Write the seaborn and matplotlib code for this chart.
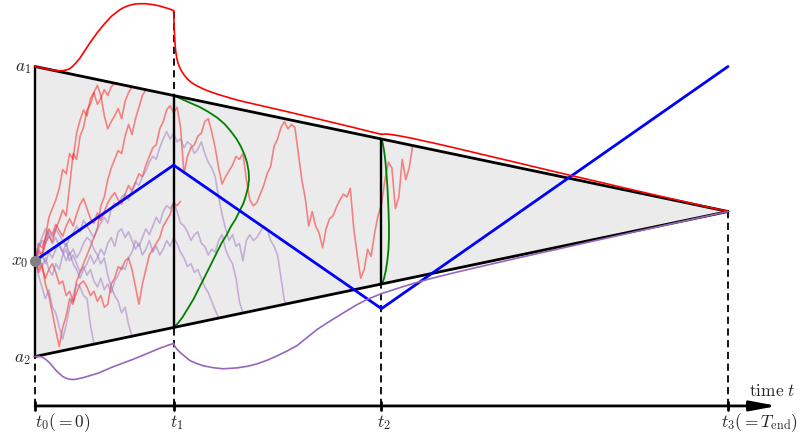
import numpy as np
import pandas as pd
import matplotlib
matplotlib.use("Agg")
import matplotlib.pyplot as plt
import seaborn as sns

# ---------------------------------------------------------------------------
# Stages, barriers and starting point
# ---------------------------------------------------------------------------
t_stage = [0.0, 0.2, 0.5, 1.0]
stage_labels = [r"$t_0(=0)$", r"$t_1$", r"$t_2$", r"$t_3(=T_{\mathrm{end}})$"]
a1, a2, x0 = 1.0, -1.0, -0.34
T_end = 1.0

# piecewise linear drift (blue)
drift_t = [0.0, 0.2, 0.5, 1.0]
drift_y = [-0.34, 0.32, -0.67, 1.0]

# ---------------------------------------------------------------------------
# Sample paths, step DT, stopped at the first barrier crossing
# ---------------------------------------------------------------------------
DT = 0.005
paths_upper = {
    "r1": [-0.34, -0.28, -0.31, -0.22, -0.17, -0.21, -0.12, -0.06, 0.01, -0.03,
           0.18, 0.40, 0.36, 0.52, 0.58, 0.70, 0.74, 0.82, 0.87, 0.80,
           0.66, 0.57, 0.62, 0.66, 0.71, 0.64, 0.76, 0.82, 0.86],
    "r2": [-0.34, -0.40, -0.36, -0.50, -0.58, -0.70, -0.82, -0.93, -0.80, -0.72,
           -0.60, -0.64, -0.48, -0.42, -0.36, -0.30, -0.24, -0.18, -0.12, 0.04,
           0.10, 0.22, 0.30, 0.36, 0.42, 0.40, 0.52, 0.60, 0.53, 0.64,
           0.72, 0.80, 0.84],
    "r3": [-0.34, -0.26, -0.30, -0.19, -0.12, -0.16, -0.09, -0.13, -0.17, -0.10,
           -0.05, -0.10, -0.02, 0.05, 0.09, 0.02, -0.05, -0.08, -0.01, -0.06,
           0.00, 0.06, 0.10, 0.13, 0.08, 0.05, 0.12, 0.18, 0.14, 0.20,
           0.26, 0.24, 0.32, 0.38, 0.44, 0.46, 0.57, 0.62, 0.70, 0.73,
           0.68, 0.72, 0.58, 0.26, 0.38, 0.44, 0.46, 0.52, 0.54, 0.62,
           0.64, 0.55, 0.44, 0.30, 0.19, 0.24, 0.28, 0.32, 0.38, 0.36,
           0.40, 0.22, 0.08, 0.04, 0.06, 0.12, 0.18, 0.26, 0.31, 0.45,
           0.50, 0.58, 0.62, 0.57, 0.60, 0.58, 0.40, 0.22, 0.09, -0.10,
           0.00, -0.10, -0.15, -0.25, -0.12, -0.05, -0.03, 0.03, 0.08, 0.12,
           0.10, 0.16, -0.12, -0.30, -0.46, -0.40, -0.26, -0.31, -0.15, -0.03,
           0.05, 0.22, 0.34, 0.30, 0.02, 0.10, 0.36, 0.22, 0.30, 0.455],
    "r4": [-0.34, -0.22, -0.25, -0.18, -0.04, 0.02, 0.08, 0.16, 0.29, 0.26,
           0.40, 0.36, 0.54, 0.63, 0.70, 0.66, 0.78, 0.82, 0.74, 0.78,
           0.84, 0.80, 0.86, 0.885],
    "r5": [-0.34, -0.42, -0.38, -0.46, -0.40, -0.36, -0.42, -0.50, -0.48, -0.58,
           -0.55, -0.62, -0.56, -0.50, -0.48, -0.52, -0.58, -0.55, -0.62, -0.58,
           -0.66, -0.64, -0.50, -0.46, -0.38, -0.40, -0.34, -0.32, -0.40, -0.52,
           -0.64, -0.50, -0.40, -0.30, -0.26, -0.22, -0.18, -0.10, -0.06, -0.02,
           0.06, 0.04, 0.07],
}
paths_lower = {
    "p1": [-0.34, -0.44, -0.52, -0.60, -0.54, -0.66, -0.70, -0.80, -0.88, -0.78,
           -0.66, -0.58, -0.50, -0.52, -0.58, -0.60, -0.78, -0.915],
    "p2": [-0.34, -0.26, -0.20, -0.22, -0.14, -0.18, -0.12, -0.16, -0.20, -0.24,
           -0.18, -0.15, -0.10, -0.14, -0.06, -0.10, -0.14, -0.18, -0.12, -0.08,
           -0.04, -0.08, 0.02, 0.06, 0.04, 0.10, 0.12, 0.08, 0.15, 0.20,
           0.18, 0.24, 0.28, 0.34, 0.38, 0.36, 0.44, 0.50, 0.55, 0.50,
           0.54, 0.48, 0.50, 0.44, 0.48, 0.46, 0.40, 0.43, 0.48, 0.40,
           0.34, 0.30, 0.24, 0.10, -0.02, -0.12, -0.20, -0.16, -0.24, -0.22,
           -0.34, -0.20, -0.16, -0.20, -0.18, -0.14, -0.10, -0.12, -0.20, -0.24,
           -0.30, -0.46, -0.62, -0.635],
    "p3": [-0.34, -0.30, -0.38, -0.32, -0.40, -0.44, -0.36, -0.40, -0.30, -0.26,
           -0.34, -0.30, -0.36, -0.42, -0.38, -0.44, -0.40, -0.48, -0.52, -0.46,
           -0.54, -0.50, -0.56, -0.48, -0.44, -0.38, -0.40, -0.32, -0.28, -0.20,
           -0.24, -0.18, -0.12, -0.16, -0.10, -0.04, -0.08, 0.00, 0.04, 0.02,
           0.06, 0.00, -0.08, -0.10, -0.14, -0.20, -0.16, -0.14, -0.22, -0.24,
           -0.30, -0.26, -0.28, -0.20, -0.16, -0.26, -0.32, -0.36, -0.46, -0.62,
           -0.70],
    "p4": [-0.34, -0.38, -0.30, -0.36, -0.28, -0.32, -0.26, -0.22, -0.28, -0.34,
           -0.28, -0.36, -0.40, -0.46, -0.40, -0.36, -0.30, -0.36, -0.32, -0.26,
           -0.30, -0.22, -0.18, -0.24, -0.14, -0.12, -0.18, -0.14, -0.20, -0.26,
           -0.22, -0.30, -0.26, -0.20, -0.28, -0.24, -0.30, -0.26, -0.20, -0.24,
           -0.18, -0.22, -0.28, -0.32, -0.38, -0.36, -0.42, -0.40, -0.46, -0.52,
           -0.56, -0.62, -0.68, -0.735],
    "p5": [-0.34, -0.24, -0.18, -0.12, -0.16, -0.22, -0.18, -0.24, -0.28, -0.22,
           -0.30, -0.26, -0.32, -0.28, -0.22, -0.18, -0.20, -0.26, -0.30, -0.36,
           -0.32, -0.44, -0.52, -0.58, -0.62, -0.70, -0.66, -0.78, -0.86],
}

# ---------------------------------------------------------------------------
# First-passage densities (scaled), one piece per stage
# ---------------------------------------------------------------------------
fpt_up_t = [
    [0.000, 0.005, 0.010, 0.015, 0.020, 0.025, 0.030, 0.035, 0.040, 0.045,
     0.050, 0.055, 0.060, 0.065, 0.070, 0.075, 0.080, 0.085, 0.090, 0.095,
     0.100, 0.105, 0.110, 0.115, 0.120, 0.125, 0.130, 0.135, 0.140, 0.145,
     0.150, 0.155, 0.160, 0.165, 0.170, 0.175, 0.180, 0.185, 0.190, 0.195, 0.200],
    [0.200, 0.2005, 0.201, 0.2015, 0.202, 0.203, 0.2045, 0.2065, 0.209, 0.212,
     0.216, 0.220, 0.225, 0.230, 0.236, 0.243, 0.250, 0.260, 0.270, 0.280,
     0.290, 0.300, 0.320, 0.340, 0.360, 0.380, 0.400, 0.420, 0.440, 0.460,
     0.480, 0.500],
    [0.500, 0.505, 0.510, 0.520, 0.530, 0.545, 0.560, 0.580, 0.600, 0.630,
     0.660, 0.700, 0.740, 0.780, 0.820, 0.860, 0.900, 0.940, 0.970, 1.000],
]
fpt_up = [
    [0.000, 0.000, 0.000, 0.000, 0.000, 0.001, 0.002, 0.006, 0.011, 0.021,
     0.034, 0.059, 0.090, 0.124, 0.166, 0.207, 0.248, 0.286, 0.324, 0.359,
     0.393, 0.424, 0.455, 0.479, 0.503, 0.524, 0.541, 0.555, 0.566, 0.576,
     0.583, 0.588, 0.593, 0.595, 0.597, 0.597, 0.597, 0.595, 0.593, 0.590, 0.586],
    [0.586, 0.517, 0.455, 0.407, 0.366, 0.310, 0.262, 0.228, 0.200, 0.176,
     0.152, 0.134, 0.117, 0.106, 0.097, 0.088, 0.081, 0.074, 0.069, 0.065,
     0.061, 0.059, 0.057, 0.055, 0.053, 0.050, 0.048, 0.045, 0.042, 0.039,
     0.035, 0.032],
    [0.032, 0.039, 0.043, 0.046, 0.048, 0.049, 0.048, 0.047, 0.045, 0.041,
     0.037, 0.032, 0.026, 0.021, 0.017, 0.012, 0.008, 0.005, 0.002, 0.000],
]
fpt_low_t = [
    [0.000, 0.005, 0.010, 0.015, 0.020, 0.025, 0.030, 0.035, 0.040, 0.045,
     0.050, 0.055, 0.060, 0.070, 0.080, 0.090, 0.100, 0.110, 0.120, 0.130,
     0.140, 0.150, 0.160, 0.170, 0.180, 0.190, 0.200],
    [0.200, 0.2015, 0.203, 0.206, 0.209, 0.2165, 0.2237, 0.2323, 0.2424, 0.2569,
     0.2713, 0.2915, 0.3059, 0.3203, 0.3348, 0.3492, 0.3636, 0.3781, 0.3925,
     0.4069, 0.4214, 0.4358, 0.4502, 0.4647, 0.4791, 0.500],
    [0.500, 0.510, 0.520, 0.530, 0.550, 0.570, 0.590, 0.620, 0.660, 0.700,
     0.750, 0.800, 0.850, 0.900, 0.950, 1.000],
]
fpt_low = [
    [0.000, 0.004, 0.014, 0.033, 0.059, 0.090, 0.124, 0.152, 0.178, 0.195,
     0.207, 0.214, 0.216, 0.215, 0.211, 0.207, 0.197, 0.186, 0.178, 0.170,
     0.162, 0.153, 0.143, 0.133, 0.123, 0.116, 0.110],
    [0.110, 0.128, 0.141, 0.162, 0.179, 0.217, 0.252, 0.279, 0.306, 0.334,
     0.356, 0.370, 0.374, 0.371, 0.361, 0.345, 0.326, 0.303, 0.262,
     0.221, 0.190, 0.162, 0.134, 0.107, 0.086, 0.066],
    [0.066, 0.061, 0.055, 0.050, 0.041, 0.034, 0.030, 0.025, 0.021, 0.017,
     0.014, 0.010, 0.007, 0.004, 0.002, 0.000],
]

# state densities at t1 and t2 (drawn sideways, widths in time units)
dens_t1_y = [0.800, 0.776, 0.748, 0.721, 0.686, 0.645, 0.603, 0.555, 0.500,
             0.445, 0.390, 0.334, 0.279, 0.224, 0.169, 0.114, 0.059, 0.003,
             -0.052, -0.107, -0.162, -0.217, -0.272, -0.328, -0.397, -0.466,
             -0.534, -0.603, -0.672, -0.728, -0.769, -0.800]
dens_t1_w = [0.0, 0.0115, 0.0245, 0.0375, 0.0505, 0.0635, 0.0736, 0.0823, 0.0909,
             0.0974, 0.1025, 0.1061, 0.1082, 0.1089, 0.1075, 0.1046, 0.1010, 0.0952,
             0.0895, 0.0823, 0.0765, 0.0693, 0.0635, 0.0577, 0.0505, 0.0433,
             0.0361, 0.0289, 0.0202, 0.0130, 0.0065, 0.0]
dens_t2_y = [0.500, 0.472, 0.417, 0.348, 0.259, 0.155, 0.017, -0.086, -0.176,
             -0.259, -0.341, -0.410, -0.459, -0.486, -0.500]
dens_t2_w = [0.0, 0.0017, 0.0038, 0.0056, 0.0072, 0.0087, 0.0100, 0.0107, 0.0108,
             0.0101, 0.0084, 0.0061, 0.0038, 0.0019, 0.0]


def upper(t):
    return a1 * (1 - np.asarray(t) / T_end)


def lower(t):
    return a2 * (1 - np.asarray(t) / T_end)


# ---------------------------------------------------------------------------
sns.set_style("white")
plt.rcParams["mathtext.fontset"] = "cm"
plt.rcParams["font.family"] = ["DejaVu Serif"]

fig = plt.figure(figsize=(8.07, 4.39), dpi=100)
ax = fig.add_axes([0, 0, 1, 1])
ax.set_xlim(-35 / 693, 772 / 693)
ax.set_ylim((212.5 - 439) / 145, 212.5 / 145)
ax.axis("off")

RED = "#ff0000"
PURPLE = "#9467bd"
GREEN = "#008000"
y_axis = -1.341

# shaded continuation region
ax.fill([0, T_end, 0], [a1, 0, a2], color="#ebebeb", lw=0, zorder=0)

# sample paths
rows = []
for kind, group in (("upper", paths_upper), ("lower", paths_lower)):
    for name, vals in group.items():
        for k, v in enumerate(vals):
            rows.append({"t": k * DT, "y": v, "path": name, "kind": kind})
df = pd.DataFrame(rows)
sns.lineplot(data=df, x="t", y="y", hue="kind", units="path", estimator=None,
             sort=False, palette={"upper": RED, "lower": PURPLE}, alpha=0.45,
             lw=1.2, legend=False, ax=ax, zorder=1)

# sideways state densities
ax.plot(t_stage[1] + np.array(dens_t1_w), dens_t1_y, color=GREEN, lw=1.3, zorder=2)
ax.plot(t_stage[2] + np.array(dens_t2_w), dens_t2_y, color=GREEN, lw=1.3, zorder=2)

# dashed guides
dash = dict(color="k", lw=1.3, ls=(0, (4, 2.5)), zorder=2)
ax.plot([0, 0], [y_axis, a2], **dash)
ax.plot([t_stage[1]] * 2, [y_axis, upper(t_stage[1]) + fpt_up[0][-1]], **dash)
ax.plot([t_stage[2]] * 2, [y_axis, lower(t_stage[2])], **dash)
ax.plot([t_stage[3]] * 2, [y_axis, 0], **dash)

# barriers and stage lines
tb = np.array([0, T_end])
ax.plot(tb, upper(tb), color="k", lw=2.0, zorder=3)
ax.plot(tb, lower(tb), color="k", lw=2.0, zorder=3)
for ts in t_stage[:3]:
    ax.plot([ts, ts], [lower(ts), upper(ts)], color="k", lw=1.7, zorder=3)

# drift
ax.plot(drift_t, drift_y, color="#0000ff", lw=2.0, zorder=4)

# first-passage densities on the barriers
for tt, ff in zip(fpt_up_t, fpt_up):
    tt = np.array(tt)
    ax.plot(tt, upper(tt) + np.array(ff), color=RED, lw=1.2, zorder=5)
for tt, ff in zip(fpt_low_t, fpt_low):
    tt = np.array(tt)
    ax.plot(tt, lower(tt) - np.array(ff), color=PURPLE, lw=1.2, zorder=5)

# starting point
ax.plot([0], [x0], "o", color="#808080", ms=7, zorder=6)

# time axis
ax.annotate("", xy=(1.071, y_axis), xytext=(0, y_axis),
            arrowprops=dict(arrowstyle="-|>,head_length=0.8,head_width=0.15",
                            lw=2.0, color="k", shrinkA=0, shrinkB=0,
                            mutation_scale=20), zorder=6)
for ts in t_stage:
    ax.plot([ts, ts], [y_axis - 0.03, y_axis + 0.03], color="k", lw=2.0, zorder=6)

fs = 12.5
ax.text(0.0, -1.45, stage_labels[0], ha="left", va="center", fontsize=fs)
ax.text(t_stage[1] + 0.004, -1.45, stage_labels[1], ha="center", va="center", fontsize=fs)
ax.text(t_stage[2] + 0.004, -1.45, stage_labels[2], ha="center", va="center", fontsize=fs)
ax.text(t_stage[3] - 0.01, -1.45, stage_labels[3], ha="left", va="center", fontsize=fs)
ax.text(1.031, -1.235, r"$\mathrm{time}\ t$", ha="left", va="center", fontsize=fs)

ax.text(-0.006, a1, r"$a_1$", ha="right", va="center", fontsize=fs)
ax.text(-0.006, a2 - 0.01, r"$a_2$", ha="right", va="center", fontsize=fs)
ax.text(-0.009, x0, r"$x_0$", ha="right", va="center", fontsize=fs)

fig.savefig("out.png", dpi=100)
